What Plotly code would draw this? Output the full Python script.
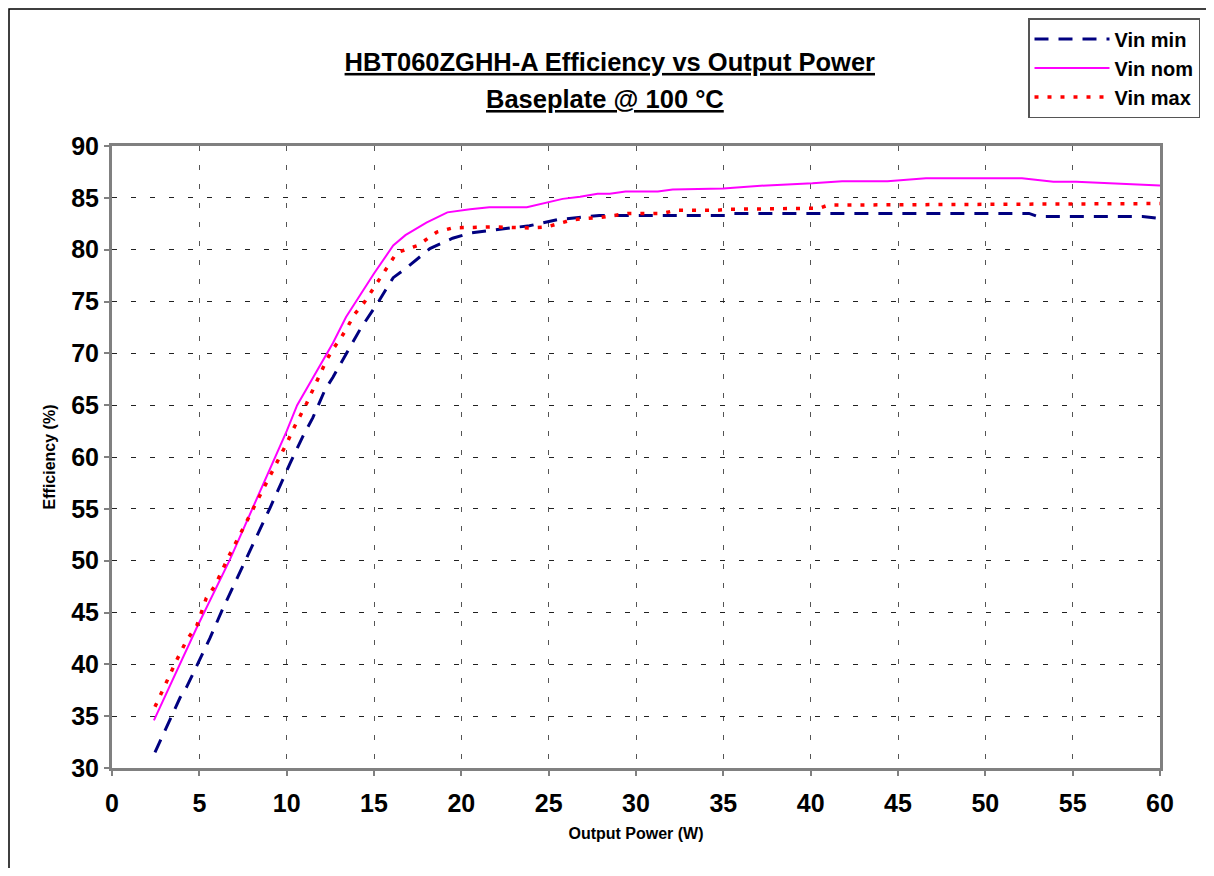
import plotly.graph_objects as go

# ---- data ----
vmin_x = [2.46, 3.15, 3.9, 4.27, 4.87, 5.6, 6.3, 7.7, 9.05, 10.2, 10.9, 11.5, 12.2, 12.65,
          14.2, 15.3, 16.1, 16.9, 18.2, 19.5, 20.5, 22.8, 23.9, 25.5, 27.9, 35.2, 35.5,
          52.5, 53.0, 59.0, 60.0]
vmin_y = [31.5, 34.1, 36.8, 37.8, 39.9, 42.5, 45.2, 50.2, 55.1, 59.4, 61.9, 63.8, 66.5, 67.7,
          72.3, 75.1, 77.3, 78.3, 80.1, 81.1, 81.6, 82.1, 82.3, 82.9, 83.3, 83.3, 83.5,
          83.5, 83.2, 83.2, 83.0]

vnom_x = [2.4, 4.87, 6.75, 8.07, 10.0, 10.6, 12.65, 13.4, 14.0, 15.0, 16.1, 16.8, 18.0,
          19.2, 20.5, 21.6, 23.75, 25.8, 26.8, 27.8, 28.5, 29.4, 31.25, 32.1, 35.0, 37.5,
          40.1, 41.8, 44.4, 46.6, 52.1, 53.9, 55.2, 60.0]
vnom_y = [34.6, 43.6, 50.1, 55.1, 62.5, 65.0, 71.0, 73.5, 75.1, 77.7, 80.4, 81.4, 82.6,
          83.6, 83.9, 84.1, 84.1, 84.9, 85.1, 85.4, 85.4, 85.6, 85.6, 85.8, 85.9, 86.2,
          86.4, 86.6, 86.6, 86.9, 86.9, 86.55, 86.55, 86.2]

vmax_x = [2.46, 3.15, 3.7, 4.27, 4.87, 5.4, 5.9, 6.65, 8.5, 9.6, 10.0, 10.35, 11.15, 11.5,
          11.9, 12.3, 12.65, 13.15, 13.5, 13.9, 14.4, 15.7, 16.3, 17.5, 18.6, 19.5, 21.8,
          23.9, 24.9, 26.4, 27.9, 29.6, 31.5, 32.3, 34.6, 35.4, 40.5, 41.0, 50.0, 60.0]
vmax_y = [35.9, 38.5, 40.4, 42.3, 43.8, 46.4, 47.6, 50.3, 56.5, 60.0, 61.3, 62.6, 65.2, 66.5,
          68.0, 69.4, 70.4, 71.6, 72.6, 73.8, 74.8, 78.2, 79.7, 80.4, 81.7, 82.1, 82.2,
          82.1, 82.2, 82.9, 83.1, 83.5, 83.5, 83.8, 83.8, 83.9, 84.0, 84.3, 84.35, 84.45]

series_names = ["Vin min", "Vin nom", "Vin max"]
x_ticks = list(range(0, 61, 5))
y_ticks = list(range(30, 91, 5))

title_line1 = "HBT060ZGHH-A Efficiency vs Output Power"
title_line2 = "Baseplate @ 100 °C"
x_title = "Output Power (W)"
y_title = "Efficiency (%)"

SANS = "Liberation Sans, Arial, sans-serif"

# page body has an 8px margin; plot area target: x 112..1160, y 146..768 on the page
W, H = 1198, 860
L, T = 104, 138
PW, PH = 1048, 622

fig = go.Figure()
fig.add_trace(go.Scatter(x=vmin_x, y=vmin_y, mode="lines", name=series_names[0],
                         line=dict(color="#000080", width=3, dash="14px,10px")))
fig.add_trace(go.Scatter(x=vnom_x, y=vnom_y, mode="lines", name=series_names[1],
                         line=dict(color="#FF00FF", width=2)))
fig.add_trace(go.Scatter(x=vmax_x, y=vmax_y, mode="lines", name=series_names[2],
                         line=dict(color="#FF0000", width=3.5, dash="4px,9px")))

fig.update_layout(
    width=W, height=H,
    paper_bgcolor="white", plot_bgcolor="white",
    margin=dict(l=L, r=W - L - PW, t=T, b=H - T - PH, autoexpand=False),
    title=dict(text="<b>" + title_line1 + "</b>", x=0.475, xref="paper", xanchor="center",
               y=1 - 54 / H, yref="container", yanchor="middle",
               font=dict(family=SANS, size=25.5, color="black", lineposition="under")),
    showlegend=True,
    legend=dict(x=(1028 - 112) / PW, y=(768 - 18) / PH, xanchor="left", yanchor="top",
                bgcolor="white", bordercolor="#555555", borderwidth=1.5,
                font=dict(family=SANS, size=20, color="black", weight="bold"),
                itemwidth=75, tracegroupgap=0, traceorder="normal"),
)

fig.add_annotation(text="<b>" + title_line2 + "</b>", xref="paper", yref="paper",
                   x=0.47, y=(768 - 99) / PH, xanchor="center", yanchor="middle",
                   showarrow=False,
                   font=dict(family=SANS, size=25.5, color="black", lineposition="under"))

grid_common = dict(showgrid=True, gridwidth=1.3, griddash="5px,14px",
                   showline=True, linecolor="#808080", linewidth=3, mirror=True,
                   ticks="outside", ticklen=5, tickcolor="#808080", tickwidth=1.5,
                   zeroline=False)

fig.update_xaxes(range=[0, 60], tickvals=x_ticks, gridcolor="#555555",
                 ticklabelstandoff=6,
                 tickfont=dict(family=SANS, size=25, color="black", weight="bold"),
                 title=dict(text=x_title, standoff=12,
                            font=dict(family=SANS, size=16, color="black", weight="bold")),
                 **grid_common)
fig.update_yaxes(range=[30, 90], tickvals=y_ticks, gridcolor="#222222",
                 tickfont=dict(family=SANS, size=25, color="black", weight="bold"),
                 title=dict(text=y_title, standoff=12,
                            font=dict(family=SANS, size=16, color="black", weight="bold")),
                 **grid_common)

# outer chart frame (left and top edges visible; right/bottom run past the page)
fig.add_shape(type="rect", xref="paper", yref="paper",
              x0=(9 - 112) / PW, x1=(1240 - 112) / PW,
              y0=(768 - 900) / PH, y1=(768 - 9) / PH,
              line=dict(color="black", width=1.5), layer="below")

fig.write_html("out.html")
